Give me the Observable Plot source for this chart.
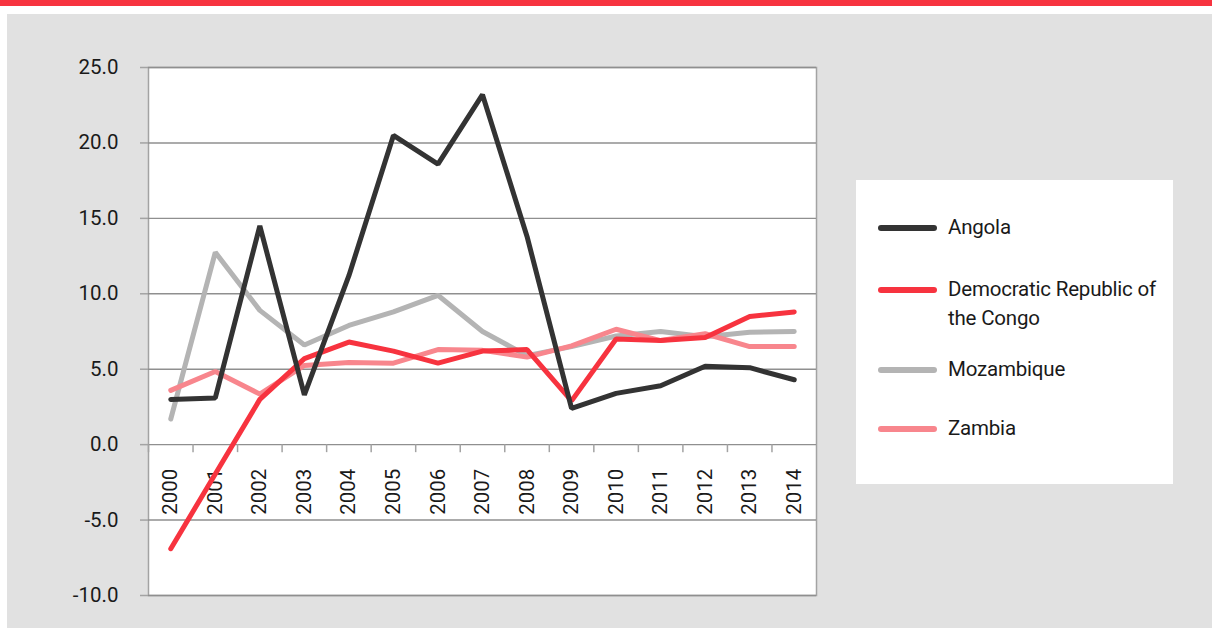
<!DOCTYPE html>
<html><head><meta charset="utf-8">
<script src="https://cdn.jsdelivr.net/npm/d3@7"></script>
<script src="https://cdn.jsdelivr.net/npm/@observablehq/plot@0.6"></script>
<style>
body{margin:0;width:1212px;height:628px;overflow:hidden;background:#fff;position:relative;font-family:Roboto,sans-serif;}
#bar{position:absolute;left:0;top:0;width:1212px;height:6px;background:#f7333f;overflow:hidden;}
#title{position:absolute;left:16px;top:-18px;color:#fff;font:bold 17px "Liberation Sans",sans-serif;white-space:nowrap;}
#panel{position:absolute;left:7px;top:14px;width:1205px;height:614px;background:#e1e1e1;}
#chart{position:absolute;left:0;top:0;}
#legend{position:absolute;left:856px;top:180px;width:317px;height:304px;background:#fff;}
.item{position:absolute;left:0;}
.item svg{position:absolute;left:20px;top:0;}
.lab{position:absolute;left:92px;font-size:20.5px;font-weight:400;line-height:29px;color:#1a1a1a;white-space:nowrap;letter-spacing:-0.2px;}
</style></head>
<body>
<div id="bar"><div id="title">Figure 1: Real GDP growth in emerging regional economies, 2000–2014 (percentage)</div></div>
<div id="panel"></div>
<div id="chart"></div>
<div id="legend"></div>
<script>
const years = [2000,2001,2002,2003,2004,2005,2006,2007,2008,2009,2010,2011,2012,2013,2014];
const countries = ["Angola","Democratic Republic of the Congo","Mozambique","Zambia"];
const angola = [3.0,3.1,14.5,3.3,11.2,20.5,18.6,23.2,13.8,2.4,3.4,3.9,5.2,5.1,4.3];
const drc = [-6.9,-1.95,3.0,5.7,6.8,6.2,5.4,6.2,6.3,2.9,7.0,6.9,7.1,8.5,8.8];
const mozambique = [1.7,12.75,8.9,6.6,7.9,8.8,9.9,7.5,5.9,6.5,7.2,7.5,7.15,7.45,7.5];
const zambia = [3.6,4.85,3.35,5.25,5.45,5.4,6.3,6.25,5.8,6.55,7.65,6.9,7.35,6.5,6.5];
const colors = ["#333333","#f7333f","#b4b4b4","#f8868d"];
const yTicks = [-10,-5,0,5,10,15,20,25];
const series = [angola, drc, mozambique, zambia];
const drawOrder = [2,3,1,0];

const data = drawOrder.flatMap(i => years.map((y,j)=>({country:countries[i], year:y, value:series[i][j]})));
const tickPos = years.map(y=>y+0.5).slice(0,-1).concat([years[0]-0.5]);

const font = 'Roboto,sans-serif';
const chart = Plot.plot({
  width:850, height:628,
  marginLeft:148, marginRight:34, marginTop:67, marginBottom:33,
  style:{background:"transparent", fontFamily:font, fontSize:"20.5px", fontWeight:400, color:"#1a1a1a"},
  x:{domain:[years[0]-0.5, years[years.length-1]+0.5], axis:null},
  y:{domain:[-10,25], axis:null},
  color:{domain:countries, range:colors},
  marks:[
    Plot.frame({fill:"white", stroke:"#a3a3a3", strokeWidth:1.5}),
    Plot.gridY(yTicks,{stroke:"#8f8f8f", strokeOpacity:1, strokeWidth:1.4}),
    Plot.axisY(yTicks,{anchor:"left", tickSize:8, tickPadding:22, tickFormat:d=>d.toFixed(1), label:null, stroke:"#a3a3a3", strokeWidth:1.5, fontSize:20.5, fill:"#1a1a1a"}),
    Plot.ruleX(tickPos,{x:d=>d, y1:0, y2:0, insetBottom:-8, stroke:"#a3a3a3", strokeWidth:1.5}),
    Plot.text(years,{x:d=>d, y:0, text:d=>String(d), rotate:-90, textAnchor:"end", dy:24, fontSize:20.5, fill:"#1a1a1a"}),
    Plot.line(data,{x:"year", y:"value", stroke:"country", z:"country", strokeWidth:5, strokeLinecap:"round", strokeLinejoin:"miter"})
  ]
});
document.getElementById("chart").appendChild(chart);

const legend = document.getElementById("legend");
const itemTops = [48, 110, 190, 249];
countries.forEach((c,i)=>{
  const d = document.createElement("div");
  d.className = "item";
  d.style.top = itemTops[i] + "px";
  d.innerHTML = `<svg width="64" height="10" style="top:-5px"><line x1="5" x2="58" y1="5" y2="5" stroke="${colors[i]}" stroke-width="6" stroke-linecap="round"/></svg>`;
  const lab = document.createElement("div");
  lab.className = "lab";
  lab.style.top = "-15px";
  lab.innerHTML = c === "Democratic Republic of the Congo" ? "Democratic Republic of<br>the Congo" : c;
  d.appendChild(lab);
  legend.appendChild(d);
});
</script>
</body></html>
